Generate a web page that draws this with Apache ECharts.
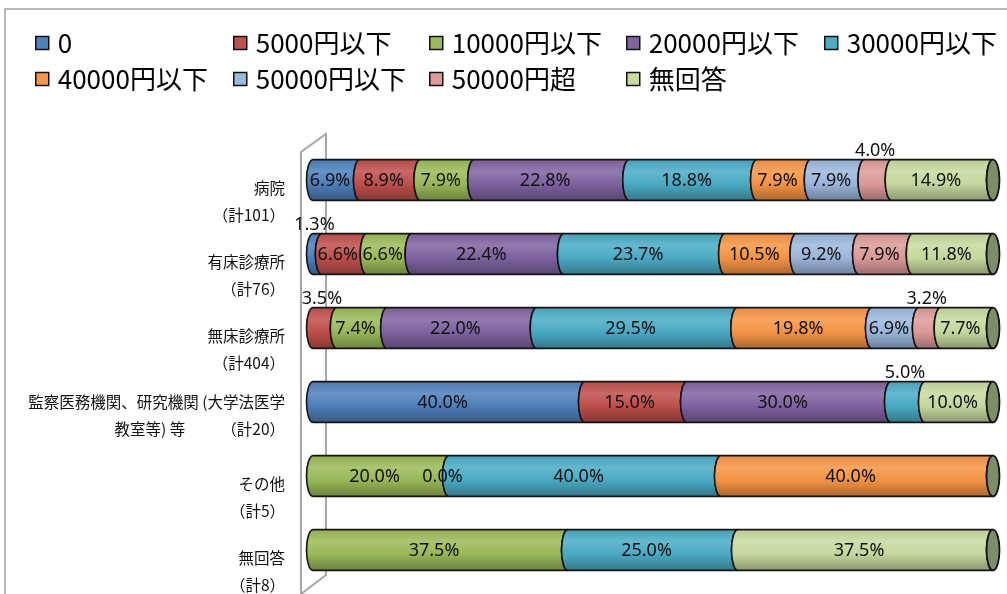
<!DOCTYPE html>
<html>
<head>
<meta charset="utf-8">
<script src="https://cdn.jsdelivr.net/npm/echarts@6/dist/echarts.min.js"></script>
<style>
html, body { margin: 0; padding: 0; background: #fff; }
#chart { width: 1007px; height: 594px; }
</style>
</head>
<body>
<div id="chart"></div>
<script>
// Facility types (rows) and their respondent totals
const categoryNames = ['病院', '有床診療所', '無床診療所', '監察医務機関、研究機関 (大学法医学\n教室等) 等', 'その他', '無回答'];
const categoryTotals = [101, 76, 404, 20, 5, 8];

// Amount brackets (stack order, left to right)
const seriesNames = ['0', '5000円以下', '10000円以下', '20000円以下', '30000円以下', '40000円以下', '50000円以下', '50000円超', '無回答'];

// Share of each bracket per facility type, in percent (null = no entry)
const share0        = [6.9, 1.3, null, 40.0, null, null];
const share5000     = [8.9, 6.6, 3.5, 15.0, null, null];
const share10000    = [7.9, 6.6, 7.4, null, 20.0, 37.5];
const share20000    = [22.8, 22.4, 22.0, 30.0, 0.0, null];
const share30000    = [18.8, 23.7, 29.5, 5.0, 40.0, 25.0];
const share40000    = [7.9, 10.5, 19.8, null, 40.0, null];
const share50000    = [7.9, 9.2, 6.9, null, null, null];
const share50000Up  = [4.0, 7.9, 3.2, null, null, null];
const shareNoAnswer = [14.9, 11.8, 7.7, 10.0, null, 37.5];

const seriesValues = [share0, share5000, share10000, share20000, share30000, share40000, share50000, share50000Up, shareNoAnswer];
const seriesColors = ['#4F81BD', '#C0504D', '#9BBB59', '#8064A2', '#4BACC6', '#F79646', '#9DB8DD', '#DC9C9A', '#C8DBA0'];

function mix(hex, target, t) {
  const a = parseInt(hex.slice(1), 16);
  const r = (a >> 16) & 255, g = (a >> 8) & 255, b = a & 255;
  const m = c => Math.round(c + (target - c) * t);
  return 'rgb(' + m(r) + ',' + m(g) + ',' + m(b) + ')';
}
function cylinderFill(hex) {
  return new echarts.graphic.LinearGradient(0, 0, 0, 1, [
    { offset: 0, color: mix(hex, 0, 0.08) },
    { offset: 0.3, color: mix(hex, 255, 0.14) },
    { offset: 0.6, color: mix(hex, 0, 0.02) },
    { offset: 1, color: mix(hex, 0, 0.32) }
  ]);
}

// Build stacked segments [start, end, categoryIndex, value]
const segmentData = seriesValues.map(() => []);
const labelData = [];
categoryNames.forEach((_, ci) => {
  let acc = 0;
  seriesValues.forEach((vals, si) => {
    const v = vals[ci];
    if (v === null) return;
    segmentData[si].push([acc, acc + v, ci, v]);
    labelData.push([acc, acc + v, ci, v]);
    acc += v;
  });
});

const RX = 6.5;
const BAR_RATIO = 0.55;

function barGeometry(api) {
  const start = api.value(0), end = api.value(1), cat = api.value(2);
  const p0 = api.coord([start, cat]);
  const p1 = api.coord([end, cat]);
  const h = api.size([0, 1])[1] * BAR_RATIO;
  return { start, end, x0: p0[0], x1: p1[0], cy: p0[1], top: p0[1] - h / 2, bot: p0[1] + h / 2, ry: h / 2 };
}

function renderSegment(params, api) {
  const g = barGeometry(api);
  const children = [];
  if (g.end > g.start) {
    const d = 'M' + g.x0 + ',' + g.top +
      ' A' + RX + ',' + g.ry + ' 0 0 0 ' + g.x0 + ',' + g.bot +
      ' L' + g.x1 + ',' + g.bot +
      ' A' + RX + ',' + g.ry + ' 0 0 1 ' + g.x1 + ',' + g.top + ' Z';
    children.push({
      type: 'path',
      shape: { pathData: d },
      style: { fill: cylinderFill(seriesColors[params.seriesIndex]), stroke: '#141414', lineWidth: 1.6 }
    });
    if (g.end >= 99.95) {
      const cap = 'M' + g.x1 + ',' + g.top +
        ' A' + RX + ',' + g.ry + ' 0 0 1 ' + g.x1 + ',' + g.bot +
        ' A' + RX + ',' + g.ry + ' 0 0 1 ' + g.x1 + ',' + g.top + ' Z';
      children.push({
        type: 'path',
        shape: { pathData: cap },
        style: { fill: '#7F8C6B', stroke: '#141414', lineWidth: 1.8 }
      });
    }
  }
  return { type: 'group', children };
}

function renderLabel(params, api) {
  const g = barGeometry(api);
  const v = api.value(3);
  const mid = (g.x0 + g.x1) / 2;
  const outside = v > 0 && v <= 5;
  return {
    type: 'text',
    x: outside ? mid - 3 : mid - RX,
    y: outside ? g.top - 9 : g.cy + 1,
    style: {
      text: v.toFixed(1) + '%',
      align: 'center',
      verticalAlign: 'middle',
      fontSize: 18,
      fontFamily: '"Noto Sans", sans-serif',
      fill: '#111'
    }
  };
}

const series = seriesNames.map((name, si) => ({
  name,
  type: 'custom',
  renderItem: renderSegment,
  encode: { x: [0, 1], y: 2 },
  itemStyle: { color: seriesColors[si] },
  data: segmentData[si],
  z: 2,
  animation: false
}));
series.push({
  name: 'labels',
  type: 'custom',
  renderItem: renderLabel,
  encode: { x: [0, 1], y: 2 },
  data: labelData,
  z: 5,
  silent: true,
  animation: false
});

// Legend: two rows on a fixed column grid
const legendCols = [35, 233, 429, 626, 824];
const legendRows = [28, 64];
const legends = seriesNames.map((name, i) => ({
  data: [{ name, icon: 'rect', itemStyle: { color: seriesColors[i], borderColor: '#111', borderWidth: 1.5 } }],
  left: legendCols[i % 5],
  top: legendRows[Math.floor(i / 5)],
  padding: 0,
  itemWidth: 13,
  itemHeight: 13,
  selectedMode: false,
  textStyle: { fontSize: 26, fontFamily: '"Noto Sans CJK JP", sans-serif', color: '#000', lineHeight: 30, padding: [0, 0, 0, 4] }
}));

const yData = categoryNames.map((name) => {
  const item = { value: name };
  if (name.indexOf('\n') >= 0) item.textStyle = { padding: [27, 0, 0, 0] };
  return item;
});

const chart = echarts.init(document.getElementById('chart'), null, { renderer: 'canvas' });
chart.setOption({
  backgroundColor: '#fff',
  animation: false,
  legend: legends,
  grid: { left: 313, right: 14, top: 143, bottom: 7, containLabel: false },
  xAxis: { type: 'value', min: 0, max: 100, show: false },
  yAxis: {
    type: 'category',
    inverse: true,
    data: yData,
    axisLine: { show: false },
    axisTick: { show: false },
    splitLine: { show: false },
    axisLabel: {
      margin: 28,
      align: 'right',
      verticalAlign: 'middle',
      padding: [44, 0, 0, 0],
      formatter: (value, index) => {
        const total = '（計' + categoryTotals[index] + '）';
        const parts = value.split('\n');
        if (parts.length > 1) {
          return '{n|' + parts[0] + '}\n{n|' + parts[1] + '}{g|}{n|' + total + '}';
        }
        return '{n|' + value + '}\n{n|' + total + '}';
      },
      rich: {
        n: { fontSize: 15.5, fontFamily: '"Noto Sans CJK JP", sans-serif', color: '#111', lineHeight: 27 },
        g: { width: 36 }
      }
    }
  },
  graphic: [
    // chart frame
    { type: 'rect', z: 0, shape: { x: 5, y: 9, width: 1100, height: 700 }, style: { fill: 'none', stroke: '#a0a0a0', lineWidth: 1.5 } },
    // back wall of the 3-D plot area
    { type: 'polyline', z: 0, shape: { points: [[301, 600], [301, 152], [326, 134], [326, 575], [301, 594]] }, style: { fill: 'none', stroke: '#a6a6a6', lineWidth: 2 } }
  ],
  series
});
</script>
</body>
</html>
